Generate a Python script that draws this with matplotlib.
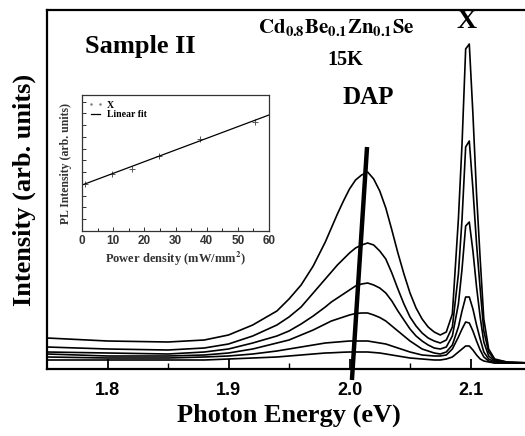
import numpy as np
import matplotlib.pyplot as plt

plt.rcParams['font.family'] = ['Liberation Sans', 'DejaVu Sans']
plt.rcParams['font.weight'] = 'bold'
plt.rcParams['mathtext.fontset'] = 'stix'

SERIF = ['Liberation Serif', 'DejaVu Serif']

# photon energy grid (eV)
energy = [1.75, 1.80, 1.85, 1.88, 1.90, 1.92, 1.94, 1.95, 1.96, 1.97, 1.98, 1.985,
          1.99, 1.995, 2.00, 2.005, 2.01, 2.015, 2.02, 2.025, 2.03, 2.035, 2.04, 2.045,
          2.05, 2.055, 2.06, 2.065, 2.07, 2.075, 2.08, 2.085, 2.09, 2.093, 2.096, 2.099,
          2.102, 2.105, 2.108, 2.111, 2.115, 2.12, 2.13, 2.15]

# PL spectra, highest to lowest excitation power (arb. units)
spec1 = [31, 28, 27, 29, 34, 44, 58, 70, 84, 103, 127, 141,
         155, 168, 180, 189, 194, 197, 190, 178, 161, 139, 116, 95,
         76, 61, 50, 42, 37, 34, 37, 55, 150, 225, 320, 325,
         255, 175, 110, 50, 20, 10, 7, 6]
spec2 = [22, 20, 19, 21, 25, 33, 44, 52, 62, 76, 90, 97,
         104, 110, 116, 121, 124, 126, 124, 118, 110, 96, 80, 65,
         52, 43, 36, 31, 28, 26, 29, 42, 95, 150, 222, 228,
         180, 125, 80, 38, 17, 9, 7, 6]
spec3 = [17, 16, 15, 17, 20, 26, 33, 38, 45, 53, 62, 67,
         71, 75, 79, 83, 85, 86, 84, 81, 76, 68, 58, 49,
         40, 33, 28, 24, 21, 20, 22, 33, 65, 100, 143, 147,
         118, 82, 52, 27, 13, 8, 6, 6]
spec4 = [15, 13, 13, 14, 16, 20, 26, 29, 34, 39, 45, 48,
         50, 52, 54, 55.5, 56, 56, 54, 51.5, 48, 43, 38, 33,
         28, 24, 20, 18, 16, 15, 17, 24, 42, 58, 72, 72,
         60, 44, 30, 17, 10, 7, 6, 6]
spec5 = [12, 11, 11, 12, 13, 15, 18, 20, 22, 24, 26, 26.5,
         27, 27.5, 28, 28, 28, 28, 27, 26, 25, 23, 21, 19,
         17, 15.5, 14, 13.5, 13, 13, 14, 20, 32, 40, 47, 46,
         38, 28, 19, 12, 8, 6, 6, 6]
spec6 = [9, 9, 9, 9, 10, 11, 12, 13, 14, 15, 16, 16.2,
         16.5, 16.8, 17, 17, 17, 17, 16.5, 16, 15, 14, 13, 12,
         11, 10.5, 10, 9.5, 9, 9, 10, 12, 17, 20, 23, 23,
         19, 14, 10, 8, 7, 6, 6, 6]
spectra = [spec1, spec2, spec3, spec4, spec5, spec6]

# DAP peak shift guide line
dapE = [2.002, 2.0145]
dapI = [-11, 222]

# inset: X intensity vs power density
power = [0.9, 9.6, 15.9, 24.7, 37.8, 55.4]
xInt = [3.97, 4.85, 5.28, 6.38, 7.83, 9.30]
fitP = [0, 60]
fitI = [3.91, 9.87]


def figText(x, y, s, **kw):
    # place text by pixel position on the 525x436 canvas
    fig.text(x / 525, 1 - y / 436, s, ha='center', va='center', **kw)


fig = plt.figure(figsize=(5.25, 4.36), dpi=100)
ax = fig.add_axes([47 / 525, 1 - 369 / 436, 484 / 525, 359 / 436])

for s in spectra:
    ax.plot(energy, s, color='black', lw=1.2)
ax.plot(dapE, dapI, color='black', lw=3.2, clip_on=False, solid_capstyle='butt')

ax.set_xlim(1.75, 2.15)
ax.set_ylim(0, 359)
ax.set_yticks([])
ax.set_xticks([1.8, 1.9, 2.0, 2.1])
ax.set_xticklabels(['1.8', '1.9', '2.0', '2.1'])
ax.set_xticks([1.85, 1.95, 2.05], minor=True)
ax.tick_params(axis='x', which='major', direction='in', length=7, width=1.3,
               labelsize=13, pad=9, top=False)
ax.tick_params(axis='x', which='minor', direction='in', length=4, width=1.0, top=False)
for sp in ax.spines.values():
    sp.set_linewidth(1.6)
ax.spines['right'].set_visible(False)

ax.set_xlabel('Photon Energy (eV)', fontsize=19, fontfamily=SERIF, fontweight='bold',
              labelpad=4)
ax.set_ylabel('Intensity (arb. units)', fontsize=19, fontfamily=SERIF, fontweight='bold',
              labelpad=8)

figText(140, 47, 'Sample II', fontsize=19, fontfamily=SERIF, fontweight='bold')
figText(336, 27, r'$\mathbf{Cd_{0.8}Be_{0.1}Zn_{0.1}Se}$', fontsize=15)
figText(345, 60, '15K', fontsize=14.5, fontfamily=SERIF, fontweight='bold')
figText(467, 22, 'X', fontsize=20, fontfamily=SERIF, fontweight='bold')
figText(368, 98, 'DAP', fontsize=18, fontfamily=SERIF, fontweight='bold')

# inset
ins = fig.add_axes([82 / 525, 1 - 231 / 436, 187 / 525, 136 / 436])
ins.plot(power, xInt, '+', color='#555555', ms=4, mew=0.7)
ins.plot([], [], '.', color='#777777', ms=1.5, label='X')
ins.plot(fitP, fitI, color='black', lw=0.9, label='Linear fit')
ins.set_xlim(0, 60)
ins.set_ylim(0, 11.57)
ins.set_xticks(range(0, 61, 10))
ins.set_xticks(range(5, 60, 10), minor=True)
ins.set_yticks(range(0, 12))
ins.set_yticklabels([])
ins.tick_params(which='major', direction='in', length=3, width=0.7, labelsize=8.5,
                colors='#333333', pad=3)
ins.tick_params(which='minor', direction='in', length=2, width=0.6)
for sp in ins.spines.values():
    sp.set_linewidth(0.9)
    sp.set_color('#333333')
ins.set_xlabel('Power density (mW/mm$^\\mathbf{2}$)', fontsize=9, fontfamily=SERIF,
               fontweight='bold', color='#333333', labelpad=2)
ins.set_ylabel('PL Intensity (arb. units)', fontsize=8.5, fontfamily=SERIF,
               fontweight='bold', color='#333333', labelpad=4)
ins.legend(loc='upper left', frameon=False, numpoints=2, handlelength=1.6,
           prop={'family': SERIF, 'weight': 'bold', 'size': 7}, borderaxespad=0.2,
           labelspacing=0.05, handletextpad=0.4)

fig.savefig('out.png', dpi=100)
